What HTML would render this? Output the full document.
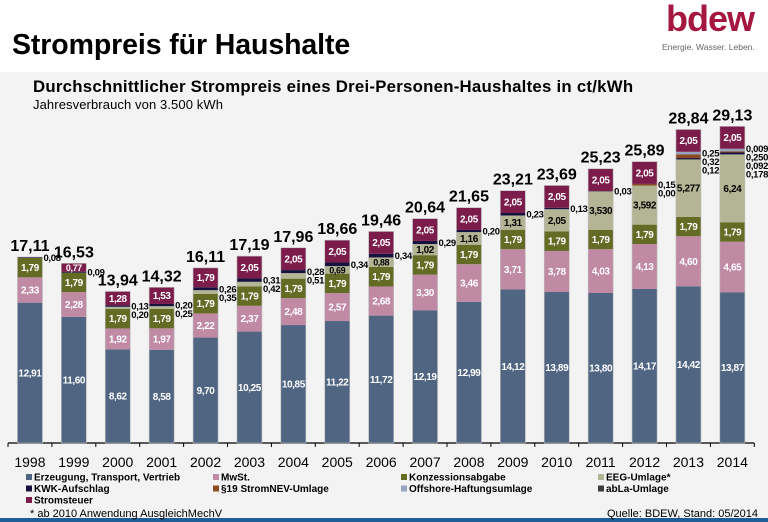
<!DOCTYPE html>
<html><head><meta charset="utf-8">
<style>
body{margin:0;width:768px;height:522px;overflow:hidden;background:#fff;font-family:"Liberation Sans",Arial,sans-serif;position:relative}
.abs{position:absolute}
</style></head>
<body>
<div class="abs" style="left:12px;top:29px;font-size:28.5px;font-weight:bold;color:#000;letter-spacing:-0.1px">Strompreis für Haushalte</div>
<div class="abs" style="left:662px;top:0px;width:100px;height:60px">
  <div style="position:absolute;left:4px;top:-2px;font-size:36px;font-weight:bold;color:#a6173f;letter-spacing:-1px">bdew</div>
  <div style="position:absolute;left:0px;top:42px;font-size:8.5px;color:#666;white-space:nowrap">Energie. Wasser. Leben.</div>
</div>
<div class="abs" style="left:0;top:72px;width:768px;height:446px;background:#f3f3f3"></div>
<div class="abs" style="left:0;top:518px;width:768px;height:4px;background:#1e5d95"></div>
<div class="abs" style="left:33px;top:77px;font-size:16.8px;font-weight:bold;color:#000;letter-spacing:0.25px">Durchschnittlicher Strompreis eines Drei-Personen-Haushaltes in ct/kWh</div>
<div class="abs" style="left:33px;top:97px;font-size:13px;color:#000;letter-spacing:0.1px">Jahresverbrauch von 3.500 kWh</div>
<svg class="abs" style="left:0;top:0" width="768" height="522" id="chart"></svg>
<script>
const years=["1998","1999","2000","2001","2002","2003","2004","2005","2006","2007","2008","2009","2010","2011","2012","2013","2014"];
const erzeugung=[12.91,11.60,8.62,8.58,9.70,10.25,10.85,11.22,11.72,12.19,12.99,14.12,13.89,13.80,14.17,14.42,13.87];
const mwst=[2.33,2.28,1.92,1.97,2.22,2.37,2.48,2.57,2.68,3.30,3.46,3.71,3.78,4.03,4.13,4.60,4.65];
const konzession=[1.79,1.79,1.79,1.79,1.79,1.79,1.79,1.79,1.79,1.79,1.79,1.79,1.79,1.79,1.79,1.79,1.79];
const eeg=[0,0,0.20,0.25,0.35,0.42,0.51,0.69,0.88,1.02,1.16,1.31,2.05,3.530,3.592,5.277,6.24];
const kwk=[0.08,0.09,0.13,0.20,0.26,0.31,0.28,0.34,0.34,0.29,0.20,0.23,0.13,0.03,0.002,0.126,0.178];
const stromnev=[0,0,0,0,0,0,0,0,0,0,0,0,0,0,0.151,0.329,0.092];
const offshore=[0,0,0,0,0,0,0,0,0,0,0,0,0,0,0,0.250,0.250];
const abla=[0,0,0,0,0,0,0,0,0,0,0,0,0,0,0,0,0.009];
const stromsteuer=[0,0.77,1.28,1.53,1.79,2.05,2.05,2.05,2.05,2.05,2.05,2.05,2.05,2.05,2.05,2.05,2.05];
const totals=["17,11","16,53","13,94","14,32","16,11","17,19","17,96","18,66","19,46","20,64","21,65","23,21","23,69","25,23","25,89","28,84","29,13"];
const eegDecimals=[2,2,2,2,2,2,2,2,2,2,2,2,2,3,3,3,2];
const smallDecimals=[2,2,2,2,2,2,2,2,2,2,2,2,2,2,3,3,3];
const seriesLabels=["Erzeugung, Transport, Vertrieb","MwSt.","Konzessionsabgabe","EEG-Umlage*","KWK-Aufschlag","§19 StromNEV-Umlage","Offshore-Haftungsumlage","abLa-Umlage","Stromsteuer"];
const seriesData=[erzeugung,mwst,konzession,eeg,kwk,stromnev,offshore,abla,stromsteuer];
const colors=["#4f6582","#c08aa5","#636b24","#b4b594","#15123f","#8b4a20","#98a3be","#3c3c3c","#7b1c4a"];
const keys=["erzeugung","mwst","konzession","eeg","kwk","stromnev","offshore","abla","stromsteuer"];
const insideText=["#fff","#fff","#fff","#000",null,null,null,null,"#fff"];
const NS="http://www.w3.org/2000/svg";
const svg=document.getElementById('chart');
const baseY=443, pxPerUnit=10.87, x0=8, step=43.9, barW=25;
function yScale(v){return baseY-v*pxPerUnit;}
function xCenter(i){return x0+step*(i+0.5);}
function fmt(v,d){return v.toFixed(d).replace('.',',');}
function mk(tag,attrs){const e=document.createElementNS(NS,tag);for(const k in attrs)e.setAttribute(k,attrs[k]);svg.appendChild(e);return e;}
const ax=mk('line',{x1:x0,y1:baseY,x2:x0+step*years.length,y2:baseY,stroke:'#000','stroke-width':1.2});


for(let i=0;i<=years.length;i++){
  const t=mk('line',{x1:x0+step*i,y1:baseY,x2:x0+step*i,y2:baseY+4,stroke:'#000','stroke-width':1});
  
  
}
years.forEach((yr,i)=>{
  const cx=xCenter(i);
  const t=mk('text',{x:cx,y:467,'text-anchor':'middle','font-size':14,fill:'#000','font-family':'Liberation Sans, sans-serif'});
  t.textContent=yr;
  
  
  let cum=0; const smalls=[];
  seriesData.forEach((arr,s)=>{
    const v=arr[i]; if(!v) return;
    const yTop=yScale(cum+v), yBot=yScale(cum);
    const r=mk('rect',{x:cx-barW/2,y:yTop,width:barW,height:yBot-yTop,fill:colors[s]});
    
    
    const h=yBot-yTop;
    const d=(s===3)?eegDecimals[i]:2;
    if(insideText[s] && v>=0.6){
      const lt=mk('text',{x:cx,y:(yTop+yBot)/2+3.5,'text-anchor':'middle','font-size':h<10?9:10,'font-weight':'bold','letter-spacing':'-0.4',fill:insideText[s],'font-family':'Liberation Sans, sans-serif'});
      lt.textContent=fmt(v,d);
      
      
    } else if(s!==8){
      smalls.push({v:v,mid:(yTop+yBot)/2,d:(s===3)?d:smallDecimals[i]});
    }
    cum+=v;
  });
  const o=mk('rect',{x:cx-barW/2,y:yScale(cum),width:barW,height:baseY-yScale(cum),fill:'none',stroke:'#bbb','stroke-width':0.6});
  
  
  smalls.sort((a,b)=>a.mid-b.mid);
  let prev=-100;
  smalls.forEach(sm=>{
    let y=Math.max(sm.mid,prev+8.5); prev=y;
    const lt=mk('text',{x:cx+barW/2+1,y:y+3.5,'font-size':9.5,'font-weight':'bold','letter-spacing':'-0.3',fill:'#000','font-family':'Liberation Sans, sans-serif'});
    lt.textContent=fmt(sm.v,sm.d);
    
    
  });
  const tt=mk('text',{x:cx,y:yScale(cum)-6,'text-anchor':'middle','font-size':16,'font-weight':'bold',fill:'#000','font-family':'Liberation Sans, sans-serif'});
  tt.textContent=totals[i];
  
  
});
const legX=[26,213,401,598];
seriesLabels.forEach((lab,s)=>{
  const col=s%4,row=Math.floor(s/4);
  const lx=legX[col], ly=474+row*11.5;
  const r=mk('rect',{x:lx,y:ly,width:6,height:6,fill:colors[s]});
  
  
  const t=mk('text',{x:lx+8,y:ly+6.5,'font-size':10,'font-weight':'bold',fill:'#000','font-family':'Liberation Sans, sans-serif'});
  t.textContent=lab;
  
  
});
const fn=mk('text',{x:30,y:517,'font-size':11,fill:'#000','font-family':'Liberation Sans, sans-serif'});
fn.textContent='* ab 2010 Anwendung AusgleichMechV';


const src=mk('text',{x:758,y:517,'text-anchor':'end','font-size':11,fill:'#000','font-family':'Liberation Sans, sans-serif'});
src.textContent='Quelle: BDEW, Stand: 05/2014';


</script>
</body></html>
